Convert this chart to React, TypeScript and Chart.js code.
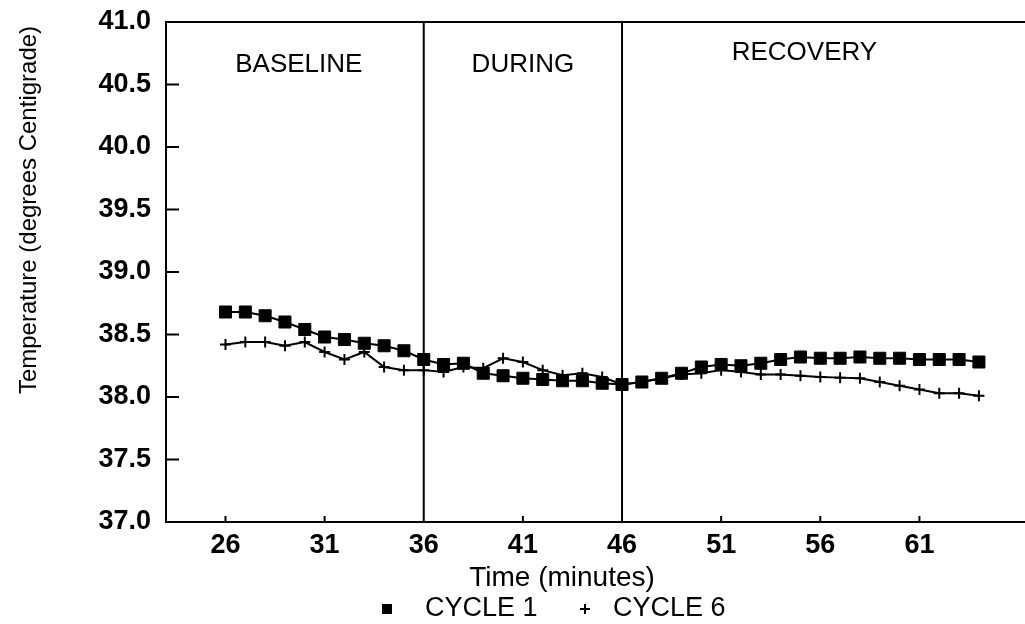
import React, { useEffect, useRef } from 'react';
import { Chart, registerables } from 'chart.js';

Chart.register(...registerables);

const minutes = [26, 27, 28, 29, 30, 31, 32, 33, 34, 35, 36, 37, 38, 39, 40, 41, 42, 43, 44, 45, 46, 47, 48, 49, 50, 51, 52, 53, 54, 55, 56, 57, 58, 59, 60, 61, 62, 63, 64];
const cycle1 = [38.68, 38.68, 38.65, 38.60, 38.54, 38.48, 38.46, 38.43, 38.41, 38.37, 38.30, 38.26, 38.27, 38.19, 38.17, 38.15, 38.14, 38.13, 38.13, 38.11, 38.10, 38.12, 38.15, 38.19, 38.24, 38.26, 38.25, 38.27, 38.30, 38.32, 38.31, 38.31, 38.32, 38.31, 38.31, 38.30, 38.30, 38.30, 38.28];
const cycle6 = [38.42, 38.44, 38.44, 38.41, 38.44, 38.36, 38.30, 38.36, 38.24, 38.215, 38.215, 38.20, 38.24, 38.23, 38.31, 38.28, 38.215, 38.175, 38.19, 38.16, 38.10, 38.12, 38.15, 38.18, 38.19, 38.215, 38.20, 38.18, 38.18, 38.17, 38.16, 38.155, 38.15, 38.12, 38.09, 38.06, 38.03, 38.03, 38.01];
const xTickValues = [26, 31, 36, 41, 46, 51, 56, 61];
const yTickValues = [37.0, 37.5, 38.0, 38.5, 39.0, 39.5, 40.0, 40.5, 41.0];
const phaseBoundaries = [36, 46];
const phaseLabels = ['BASELINE', 'DURING', 'RECOVERY'];
const phaseLabelMinutes = [29.7, 41, 55.2];
const phaseLabelTemps = [40.66, 40.66, 40.75];
const seriesNames = ['CYCLE 1', 'CYCLE 6'];
const xTitle = 'Time (minutes)';
const yTitle = 'Temperature (degrees Centigrade)';

const FONT = '"Liberation Sans", Arial, Helvetica, sans-serif';

const overlay = {
  id: 'overlay',
  beforeDatasetsDraw(chart: any) {
    const { ctx, chartArea: a } = chart;
    const x = chart.scales.x;
    const y = chart.scales.y;
    ctx.save();
    ctx.strokeStyle = '#000';
    ctx.lineWidth = 2;
    ctx.beginPath();
    ctx.moveTo(a.left - 1, a.top);
    ctx.lineTo(a.right + 20, a.top);
    phaseBoundaries.forEach((t) => {
      const px = x.getPixelForValue(t);
      ctx.moveTo(px, a.top);
      ctx.lineTo(px, a.bottom);
    });
    y.ticks.forEach((tk: any) => {
      const py = y.getPixelForValue(tk.value);
      ctx.moveTo(a.left, py);
      ctx.lineTo(a.left + 13, py);
    });
    x.ticks.forEach((tk: any) => {
      const px = x.getPixelForValue(tk.value);
      ctx.moveTo(px, a.bottom);
      ctx.lineTo(px, a.bottom - 6);
    });
    ctx.stroke();
    ctx.restore();
  },
  afterDraw(chart: any) {
    const { ctx } = chart;
    const x = chart.scales.x;
    const y = chart.scales.y;
    ctx.save();
    ctx.fillStyle = '#000';
    ctx.textBaseline = 'middle';
    ctx.textAlign = 'center';
    ctx.font = `26px ${FONT}`;
    phaseLabels.forEach((lbl, i) => {
      ctx.fillText(lbl, x.getPixelForValue(phaseLabelMinutes[i]), y.getPixelForValue(phaseLabelTemps[i]));
    });
    // x title
    ctx.font = `28px ${FONT}`;
    ctx.fillText(xTitle, 562, 578);
    // y title
    ctx.save();
    ctx.translate(29, 210);
    ctx.rotate(-Math.PI / 2);
    ctx.font = `24px ${FONT}`;
    ctx.fillText(yTitle, 0, 0);
    ctx.restore();
    // legend
    ctx.font = `27px ${FONT}`;
    ctx.textAlign = 'left';
    const ly = 609;
    ctx.fillRect(382, ly - 5, 10, 10);
    ctx.fillText(seriesNames[0], 425, ly);
    ctx.lineWidth = 2;
    ctx.strokeStyle = '#000';
    ctx.beginPath();
    ctx.moveTo(580, ly);
    ctx.lineTo(590, ly);
    ctx.moveTo(585, ly - 5);
    ctx.lineTo(585, ly + 5);
    ctx.stroke();
    ctx.fillText(seriesNames[1], 613, ly);
    ctx.restore();
  },
};

export default function App() {
  const ref = useRef<HTMLCanvasElement | null>(null);
  useEffect(() => {
    if (!ref.current) return;
    const chart = new Chart(ref.current, {
      type: 'line',
      data: {
        datasets: [
          {
            label: seriesNames[0],
            data: minutes.map((m, i) => ({ x: m, y: cycle1[i] })),
            borderColor: '#000',
            backgroundColor: '#000',
            borderWidth: 2,
            pointStyle: 'rect',
            pointRadius: 8.5,
            pointBorderWidth: 1,
            pointBackgroundColor: '#000',
            pointBorderColor: '#000',
            tension: 0,
          },
          {
            label: seriesNames[1],
            data: minutes.map((m, i) => ({ x: m, y: cycle6[i] })),
            borderColor: '#000',
            backgroundColor: '#000',
            borderWidth: 2,
            pointStyle: 'cross',
            pointRadius: 5.5,
            pointBorderWidth: 2,
            pointBorderColor: '#000',
            tension: 0,
          },
        ],
      } as any,
      options: {
        responsive: false,
        animation: false,
        layout: { padding: { top: 22, right: 0, left: 0, bottom: 0 } },
        plugins: { legend: { display: false }, tooltip: { enabled: false } },
        scales: {
          x: {
            type: 'linear',
            min: 23,
            max: 66.4,
            afterBuildTicks: (s: any) => {
              s.ticks = xTickValues.map((v) => ({ value: v }));
            },
            afterFit: (s: any) => {
              s.height = 102;
            },
            grid: { display: false, drawTicks: true, tickLength: 7 },
            border: { display: true, color: '#000', width: 2 },
            ticks: {
              color: '#000',
              font: { family: FONT, size: 27, weight: 'bold' },
              padding: 0,
              maxRotation: 0,
              autoSkip: false,
              callback: (v: any) => String(v),
            },
          },
          y: {
            type: 'linear',
            min: 37,
            max: 41,
            afterBuildTicks: (s: any) => {
              s.ticks = yTickValues.map((v) => ({ value: v }));
            },
            afterFit: (s: any) => {
              s.width = 166;
            },
            grid: { display: false, drawTicks: true, tickLength: 15 },
            border: { display: true, color: '#000', width: 2 },
            ticks: {
              color: '#000',
              font: { family: FONT, size: 27, weight: 'bold' },
              padding: 0,
              autoSkip: false,
              callback: (v: any) => Number(v).toFixed(1),
            },
          },
        },
      } as any,
      plugins: [overlay],
    });
    return () => chart.destroy();
  }, []);
  return (
    <div style={{ position: 'fixed', left: 0, top: 0, width: 1025, height: 624, overflow: 'hidden', background: '#fff' }}>
      <canvas ref={ref} width={1036} height={624} style={{ display: 'block' }} />
    </div>
  );
}
